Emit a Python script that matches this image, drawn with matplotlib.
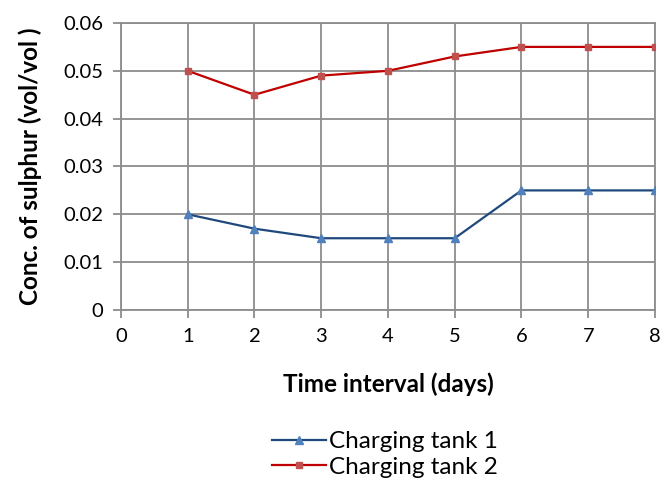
import matplotlib
matplotlib.use("Agg")
import matplotlib.pyplot as plt

plt.rcParams['font.family'] = ['Lato', 'DejaVu Sans']

days = [1, 2, 3, 4, 5, 6, 7, 8]
tank1 = [0.020, 0.017, 0.015, 0.015, 0.015, 0.025, 0.025, 0.025]
tank2 = [0.050, 0.045, 0.049, 0.050, 0.053, 0.055, 0.055, 0.055]
x_ticks = [0, 1, 2, 3, 4, 5, 6, 7, 8]
y_ticks = [0, 0.01, 0.02, 0.03, 0.04, 0.05, 0.06]
y_tick_labels = ['0', '0.01', '0.02', '0.03', '0.04', '0.05', '0.06']

grid_col = '#8c8c8c'

fig = plt.figure(figsize=(6.64, 4.83), dpi=100)
ax = fig.add_axes([0.1822, 0.3582, 0.8042, 0.5942])

ax.plot(days, tank1, color='#1F497D', linewidth=1.6, marker='^', markersize=6,
        markerfacecolor='#4F81BD', markeredgecolor='#4F81BD', label='Charging tank 1', zorder=3)
ax.plot(days, tank2, color='#C00000', linewidth=1.6, marker='s', markersize=5,
        markerfacecolor='#C0504D', markeredgecolor='#C0504D', label='Charging tank 2', zorder=3)

ax.set_xlim(0, 8)
ax.set_ylim(0, 0.06)
ax.set_xticks(x_ticks)
ax.set_yticks(y_ticks)
ax.set_yticklabels(y_tick_labels)
ax.grid(True, color=grid_col, linewidth=1.3)
ax.set_axisbelow(True)
for s in ax.spines.values():
    s.set_color(grid_col)
    s.set_linewidth(1.3)
ax.tick_params(axis='both', direction='out', length=6, width=1.3, color=grid_col,
               labelsize=14.5, labelcolor='black', pad=7)

ax.set_xlabel('Time interval (days)', fontsize=17.5, fontweight='bold', labelpad=20)
ax.set_ylabel('Conc. of sulphur (vol/vol )', fontsize=17.5, fontweight='bold', labelpad=15)

fig.legend(loc='center', bbox_to_anchor=(0.58, 0.059), frameon=False, fontsize=17.5,
           handlelength=2.2, handletextpad=0.15, labelspacing=0.2)

fig.savefig('out.png', dpi=100)
